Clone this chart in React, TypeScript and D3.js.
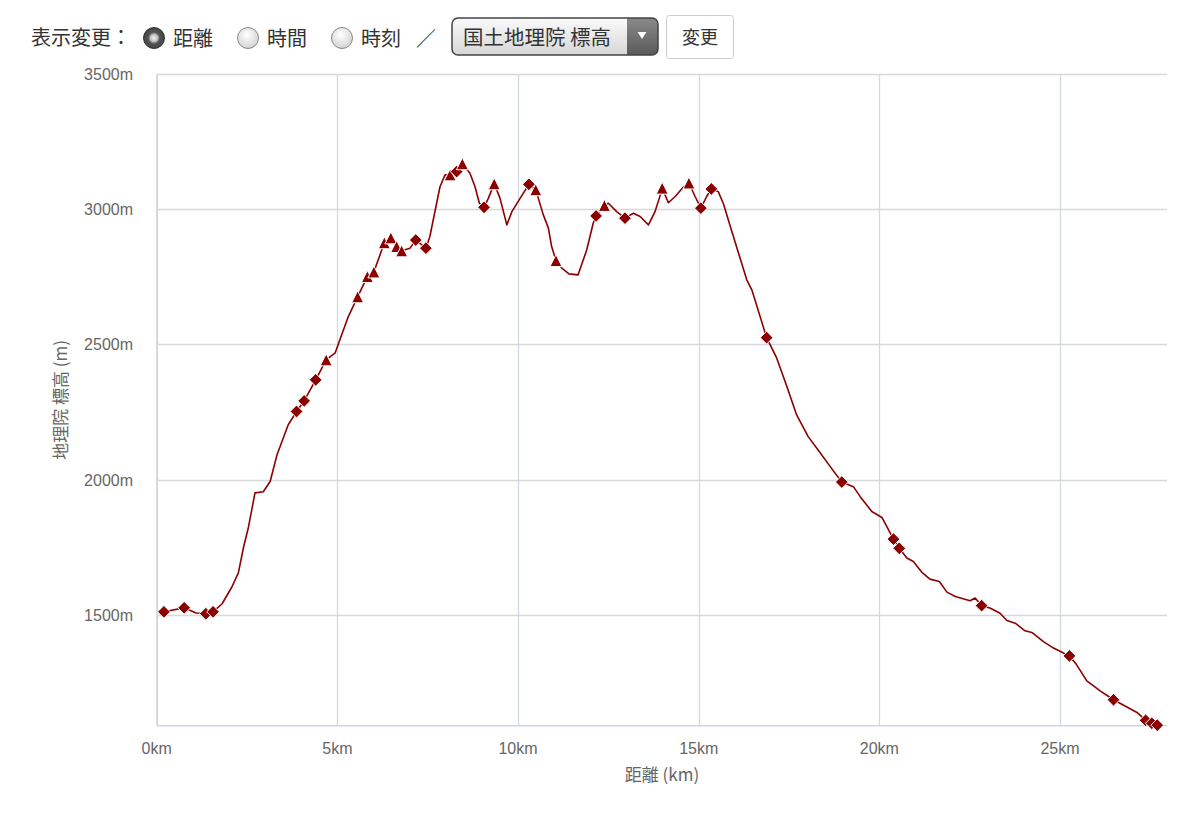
import React from "react";
import * as d3 from "d3";

// Distance along route (km)
const distanceKm = [
  0.20, 0.76, 1.09, 1.36, 1.56, 1.81, 2.08, 2.26, 2.40, 2.54, 2.72, 2.95, 3.14, 3.33, 3.64,
  3.87, 4.08, 4.40, 4.69, 4.94, 5.07, 5.30, 5.56, 5.83, 6.01, 6.30, 6.48, 6.64, 6.78, 7.01,
  7.17, 7.45, 7.56, 7.84, 7.98, 8.12, 8.30, 8.46, 8.67, 8.81, 8.93, 9.06, 9.18, 9.34, 9.50,
  9.69, 9.83, 10.06, 10.30, 10.49, 10.56, 10.70, 10.84, 10.93, 11.05, 11.22, 11.41, 11.66, 11.90, 12.08,
  12.16, 12.39, 12.50, 12.73, 12.96, 13.19, 13.38, 13.61, 13.79, 13.91, 13.99, 14.16, 14.35, 14.57, 14.73,
  14.90, 15.06, 15.22, 15.35, 15.54, 15.68, 15.96, 16.33, 16.47, 16.88, 17.16, 17.44, 17.71, 18.03, 18.31,
  18.64, 18.96, 19.28, 19.47, 19.79, 20.07, 20.39, 20.55, 20.76, 20.94, 21.17, 21.40, 21.66, 21.87, 22.10,
  22.51, 22.65, 22.83, 23.06, 23.34, 23.53, 23.76, 24.03, 24.22, 24.54, 24.82, 25.26, 25.46, 25.74, 26.11,
  26.48, 26.85, 27.13, 27.37, 27.54, 27.69,
];

// Elevation (m)
const elevationM = [
  1511, 1526, 1507, 1504, 1511, 1541, 1603, 1655, 1748, 1825, 1951, 1955, 1993, 2092, 2203,
  2252, 2291, 2369, 2443, 2469, 2517, 2602, 2676, 2751, 2768, 2876, 2894, 2862, 2846, 2856,
  2886, 2856, 2899, 3083, 3127, 3127, 3139, 3168, 3133, 3083, 3022, 3007, 3041, 3094, 3041,
  2942, 2991, 3041, 3092, 3072, 3041, 2979, 2930, 2862, 2810, 2781, 2761, 2757, 2849, 2948,
  2975, 3014, 3022, 2991, 2967, 2985, 2973, 2942, 2991, 3041, 3078, 3024, 3047, 3081, 3097,
  3047, 3004, 3047, 3075, 3065, 3022, 2899, 2739, 2702, 2525, 2449, 2344, 2239, 2159, 2109,
  2048, 1991, 1974, 1937, 1882, 1860, 1780, 1746, 1710, 1697, 1658, 1632, 1623, 1584, 1568,
  1552, 1562, 1534, 1525, 1506, 1479, 1469, 1441, 1435, 1401, 1377, 1348, 1315, 1256, 1219,
  1186, 1159, 1139, 1110, 1099, 1092,
];

// Marker kind per point: "d" = waypoint (diamond), "t" = summit (triangle), "" = none
const pointKind = [
  "d", "d", "", "d", "d", "", "", "", "", "", "", "", "", "", "",
  "d", "d", "d", "t", "", "", "", "t", "t", "t", "t", "t", "t", "t", "",
  "d", "d", "", "", "", "t", "d", "t", "", "", "", "d", "", "t", "",
  "", "", "", "d", "t", "", "", "", "", "t", "", "", "", "", "",
  "d", "t", "", "", "d", "", "", "", "", "", "t", "", "", "", "t",
  "", "d", "", "d", "", "", "", "", "", "d", "", "", "", "", "",
  "", "d", "", "", "", "", "d", "d", "", "", "", "", "", "", "",
  "", "", "d", "", "", "", "", "", "", "", "", "d", "", "", "",
  "d", "", "", "d", "d", "d",
];

const yTicks = [1500, 2000, 2500, 3000, 3500];
const xTicks = [0, 5, 10, 15, 20, 25];

const radioOptions = ["距離", "時間", "時刻"];

const LINE = "#8b0000";
const FONT = "'Liberation Sans', Arial, 'Noto Sans CJK JP', sans-serif";
const CJK = "'Noto Sans CJK JP', 'Liberation Sans', sans-serif";

export default function App() {
  const left = 156.7, right = 1167, top = 74, bottom = 725.7;
  const x = d3.scaleLinear().domain([0, 27.96]).range([left, right]);
  const y = d3.scaleLinear().domain([1090, 3500]).range([bottom, top]);

  const pts = distanceKm.map((d, i) => [d, elevationM[i]] as [number, number]);
  const line = d3.line<[number, number]>().x((p) => x(p[0])).y((p) => y(p[1]));

  const dr = 6.4;
  const diamond = `M0,${-dr}L${dr},0L0,${dr}L${-dr},0Z`;
  const r = 6;
  const tri = `M0,${-r}L${r},${r}L${-r},${r}Z`;

  const radioX = [154, 248, 342];

  return (
    <svg
      width={1200}
      height={833}
      style={{ position: "absolute", left: 0, top: 0, background: "#fff" }}
    >
      <defs>
        <linearGradient id="selG" x1="0" y1="0" x2="0" y2="1">
          <stop offset="0" stopColor="#fbfbfb" />
          <stop offset="1" stopColor="#d6d6d6" />
        </linearGradient>
        <linearGradient id="arrG" x1="0" y1="0" x2="0" y2="1">
          <stop offset="0" stopColor="#8a8a8a" />
          <stop offset="1" stopColor="#5a5a5a" />
        </linearGradient>
        <radialGradient id="radOff" cx="0.45" cy="0.35" r="0.7">
          <stop offset="0" stopColor="#ffffff" />
          <stop offset="1" stopColor="#cfcfcf" />
        </radialGradient>
        <radialGradient id="radOn" cx="0.5" cy="0.5" r="0.5">
          <stop offset="0" stopColor="#f4f4f4" />
          <stop offset="0.35" stopColor="#bdbdbd" />
          <stop offset="0.55" stopColor="#555" />
          <stop offset="1" stopColor="#444" />
        </radialGradient>
        <clipPath id="arrClip">
          <rect x={452} y={18} width={206} height={37} rx={6} />
        </clipPath>
      </defs>

      {/* Top controls */}
      <g fontFamily={CJK} fill="#333">
        <text x={31} y={45} fontSize={20}>表示変更：</text>
        {radioOptions.map((lab, i) => (
          <g key={lab}>
            <circle
              cx={radioX[i]}
              cy={38}
              r={10.5}
              fill={i === 0 ? "url(#radOn)" : "url(#radOff)"}
              stroke={i === 0 ? "#333" : "#888"}
              strokeWidth={1}
            />
            <text x={radioX[i] + 19} y={46} fontSize={20}>{lab}</text>
          </g>
        ))}
        <text x={416} y={46} fontSize={20}>／</text>
        <rect x={452} y={18} width={206} height={37} rx={6} fill="url(#selG)" />
        <rect x={627} y={18} width={31} height={37} fill="url(#arrG)" clipPath="url(#arrClip)" />
        <rect x={452} y={18} width={206} height={37} rx={6} fill="none" stroke="#444" strokeWidth={1.5} />
        <path d="M637.5,32L646.5,32L642,39Z" fill="#fff" />
        <text x={463} y={45} fontSize={20.5}>国土地理院 標高</text>
        <rect x={666.5} y={15.5} width={67} height={43} rx={3} fill="#fff" stroke="#ccc" />
        <text x={700} y={44} fontSize={18} textAnchor="middle">変更</text>
      </g>

      {/* Grid */}
      {yTicks.map((t) => (
        <line key={"gy" + t} x1={left} x2={right} y1={Math.round(y(t)) + 0.5} y2={Math.round(y(t)) + 0.5} stroke="#d8d8d8" strokeWidth={1.3} />
      ))}
      {xTicks.map((t) => (
        <line key={"gx" + t} x1={Math.round(x(t)) + 0.5} x2={Math.round(x(t)) + 0.5} y1={top} y2={bottom} stroke="#d3d9e4" strokeWidth={1.3} />
      ))}
      <line x1={left} x2={left} y1={top} y2={bottom} stroke="#d8d8d8" strokeWidth={1.3} />
      <line x1={left} x2={right} y1={bottom} y2={bottom} stroke="#ccd6eb" strokeWidth={1.6} />

      {/* Axis labels */}
      <g fontFamily={FONT} fontSize={16} fill="#666">
        {yTicks.map((t) => (
          <text key={"ly" + t} x={133} y={y(t) + 6} textAnchor="end">{t}m</text>
        ))}
        {xTicks.map((t) => (
          <text key={"lx" + t} x={x(t)} y={754} textAnchor="middle">{t}km</text>
        ))}
      </g>
      <text
        x={662}
        y={781}
        textAnchor="middle"
        fontFamily={CJK}
        fontSize={17}
        fill="#666"
      >
        距離 (km)
      </text>
      <text
        transform={`translate(67,${(top + bottom) / 2}) rotate(-90)`}
        textAnchor="middle"
        fontFamily={CJK}
        fontSize={17}
        fill="#666"
      >
        地理院 標高 (m)
      </text>

      {/* Profile line */}
      <path d={line(pts) || ""} fill="none" stroke={LINE} strokeWidth={1.6} strokeLinejoin="round" />

      {/* Markers */}
      {pts.map((p, i) =>
        pointKind[i] === "d" ? (
          <path key={"m" + i} d={diamond} transform={`translate(${x(p[0])},${y(p[1])})`} fill={LINE} stroke="#fff" strokeWidth={1} />
        ) : pointKind[i] === "t" ? (
          <path key={"m" + i} d={tri} transform={`translate(${x(p[0])},${y(p[1])})`} fill={LINE} stroke="#fff" strokeWidth={1} />
        ) : null
      )}
    </svg>
  );
}
